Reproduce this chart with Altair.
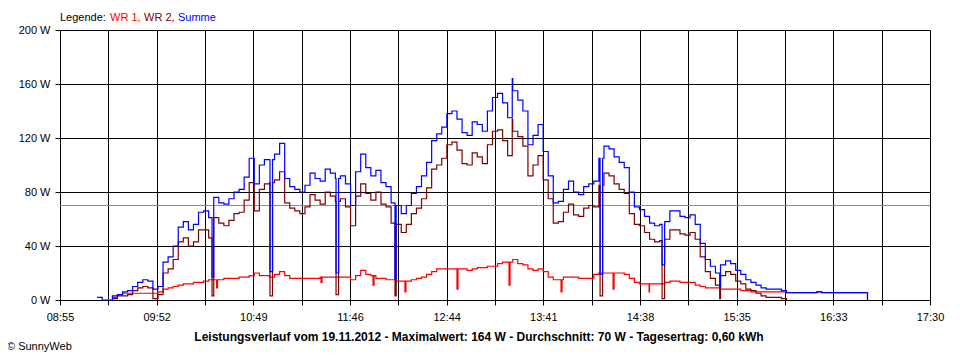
import altair as alt
import pandas as pd

# ---- sampling grid: minutes after 08:55, one reading every 3 minutes ----
t_start = 22
t_step = 3

summe = [
    2, 0, 0, 3, 4, 6, 7, 10, 13, 15,
    14, 8, 10, 28, 32, 40, 54, 58, 52, 56,
    65, 66, 61, 76, 72, 71, 75, 80, 82, 91,
    105, 86, 100, 104, 104, 108, 116, 90, 84, 82,
    80, 85, 94, 90, 88, 97, 94, 90, 92, 86,
    70, 95, 108, 98, 92, 96, 87, 84, 72, 70,
    64, 70, 79, 84, 92, 102, 118, 123, 128, 138,
    140, 134, 124, 122, 132, 130, 125, 140, 150, 153,
    146, 135, 155, 148, 140, 115, 122, 130, 110, 92,
    72, 73, 82, 88, 80, 78, 84, 86, 88, 105,
    114, 112, 106, 102, 98, 80, 69, 67, 62, 57,
    55, 56, 58, 66, 66, 62, 61, 63, 56, 42,
    30, 25, 20, 26, 29, 27, 22, 19, 15, 13,
    11, 9, 8, 8, 8, 7, 5.5, 5.5, 5.5, 5.5,
    5.5, 5.5, 6, 5.5, 5.5, 5.5, 5.5, 5.5, 5.5, 5.5,
    5.5, 5.5, 0,
]

wr1 = [
    None, None, None, 2, 4, 5, 5, 5, 5, 5,
    5, 5, 6, 8, 9, 10, 11, 12, 12, 13,
    13, 14, 15, 15, 15, 16, 16, 16, 17, 17,
    18, 20, 18, 18, 17, 19, 21, 18, 16, 16,
    16, 16, 16, 16, 17, 17, 17, 17, 17, 17,
    15, 18, 22, 19, 18, 16, 16, 15, 15, 14,
    14, 14, 15, 16, 17, 19, 21, 23, 23, 23,
    23, 23, 23, 22, 23, 24, 24, 25, 25, 27,
    28, 28, 30, 27, 26, 23, 22, 23, 21, 17,
    15, 15, 17, 17, 17, 16, 16, 16, 19, 20,
    20, 20, 20, 20, 19, 16, 13, 12, 12, 12,
    12, 12, 13, 14, 14, 13, 13, 13, 11, 10,
    9, 9, 9, 8, 8, 8, 8, 7, 7, 6,
    6, 6, 6, 6, 6, 6, 5.5, 5.5, 5.5, 5.5,
    5.5, 5.5, 6, 5.5, 5.5, 5.5, 5.5, 5.5, 5.5, 5.5,
    5.5, 5.5, 0,
]

wr2 = [
    None, None, None, 1, 3, 3, 4, 7, 9, 10,
    9, 1, 4, 20, 23, 30, 43, 46, 40, 43,
    52, 52, 46, 61, 57, 55, 59, 64, 65, 74,
    87, 66, 82, 86, 87, 89, 95, 72, 68, 66,
    64, 69, 78, 74, 71, 80, 77, 73, 75, 69,
    55, 77, 86, 79, 74, 80, 71, 69, 57, 56,
    50, 56, 64, 68, 75, 83, 97, 100, 105, 115,
    117, 111, 101, 100, 109, 106, 101, 115, 125, 126,
    118, 107, 125, 121, 114, 92, 100, 107, 89, 75,
    57, 58, 65, 71, 63, 62, 68, 70, 69, 85,
    94, 92, 86, 82, 79, 64, 56, 55, 50, 45,
    43, 44, 45, 52, 52, 49, 48, 50, 45, 32,
    21, 16, 11, 18, 21, 19, 14, 12, 8, 7,
    5, 3, 2, 2, 2, 1, 0, None, None, None,
    None, None, None, None, None, None, None, None, None, None,
    None, None, None,
]

# short dips / peaks between grid readings (minute, value)
summe_dip_t = [90.0, 124.3, 163.4, 198.3, 267.7, 319.7, 356.4, 390.5]
summe_dip_v = [17, 21, 20, 16, 164, 19, 26, 10]
wr2_dip_t = [90.0, 124.3, 163.4, 198.3, 267.7, 319.7, 356.4, 390.5]
wr2_dip_v = [3, 3, 4, 3, 134, 3, 1, 1]
wr1_dip_t = [92.7, 154.5, 185.3, 204.2, 235.0, 265.8, 296.6, 327.4, 348.7]
wr1_dip_v = [9, 13, 11, 6, 8, 11, 6, 8, 6]

mean_w = [70]
x_labels = ["08:55", "09:52", "10:49", "11:46", "12:44",
            "13:41", "14:38", "15:35", "16:33", "17:30"]
x_span = 515
y_ticks = [0, 40, 80, 120, 160, 200]

title_text = ("Leistungsverlauf vom 19.11.2012 - Maximalwert: 164 W - "
              "Durchschnitt: 70 W - Tagesertrag: 0,60 kWh")
FONT = "Liberation Sans"


def series(vals, dip_t, dip_v, width):
    times = [t_start + t_step * i for i in range(len(vals))]
    pts = list(zip(times, vals))
    for td, vd in zip(dip_t, dip_v):
        te = td + width
        idx = max(i for i, tt in enumerate(times) if tt <= te)
        pts.append((td, vd))
        pts.append((te, vals[idx]))
    pts.sort(key=lambda p: p[0])
    return pd.DataFrame({"t": [p[0] for p in pts], "w": [p[1] for p in pts]})


labels_js = "[" + ",".join("'" + s + "'" for s in x_labels) + "]"
x_label_expr = ("(round(datum.value*18/" + str(x_span) + ") % 2 == 0) ? "
                + labels_js + "[round(datum.value*9/" + str(x_span) + ")] : ''")

x_axis = alt.Axis(
    values=[x_span * k / 18 for k in range(19)], labelExpr=x_label_expr,
    title=None, grid=True, gridColor="#000000", gridOpacity=1, gridWidth=1,
    domainColor="#000000", domainWidth=1, tickColor="#000000", tickSize=5,
    tickWidth=1, labelFont=FONT, labelFontSize=11, labelColor="#000000",
    labelPadding=6, labelFlush=False, labelOverlap=False,
)
y_axis = alt.Axis(
    values=y_ticks, labelExpr="datum.value + ' W'", title=None, grid=True,
    gridColor="#000000", gridOpacity=1, gridWidth=1, domainColor="#000000",
    domainWidth=1, tickColor="#000000", tickSize=5, tickWidth=1,
    labelFont=FONT, labelFontSize=11, labelColor="#000000", labelPadding=5,
    labelFlush=False,
)
x_enc = alt.X("t:Q", scale=alt.Scale(domain=[0, x_span], nice=False, zero=False), axis=x_axis)
y_enc = alt.Y("w:Q", scale=alt.Scale(domain=[0, 200], nice=False), axis=y_axis)

mean_rule = alt.Chart(pd.DataFrame({"w": mean_w})).mark_rule(
    color="#8c8c8c", strokeWidth=1).encode(y=y_enc)


def line(df, color):
    return alt.Chart(df).mark_line(
        interpolate="step-after", color=color, strokeWidth=1.2
    ).encode(x=x_enc, y=y_enc)


l_wr1 = line(series(wr1, wr1_dip_t, wr1_dip_v, 0.6), "#ff0000")
l_wr2 = line(series(wr2, wr2_dip_t, wr2_dip_v, 1.5), "#800000")
l_sum = line(series(summe, summe_dip_t, summe_dip_v, 1.5), "#0000ff")


def label(txt, x, y, color="#000000", size=11, weight="normal", align="left"):
    return alt.Chart(pd.DataFrame({"a": [0]})).mark_text(
        text=txt, font=FONT, fontSize=size, fontWeight=weight, color=color,
        align=align, baseline="alphabetic"
    ).encode(x=alt.value(x), y=alt.value(y))


texts = [
    label("Legende:", 0, -9),
    label("WR 1,", 50, -9, "#ff0000"),
    label("WR 2,", 84, -9, "#800000"),
    label("Summe", 118, -9, "#0000ff"),
    label(title_text, 419, 311, size=12, weight="bold", align="center"),
    label("\u00a9 SunnyWeb", -53, 319.5),
]

chart = alt.layer(mean_rule, l_wr1, l_wr2, l_sum, *texts).properties(
    width=870, height=270,
    padding={"left": 52, "top": 22, "right": 22, "bottom": 52},
    autosize=alt.AutoSizeParams(type="none"),
    background="#ffffff",
).configure_view(strokeWidth=0)

chart.save("out.html", embed_options={"renderer": "svg", "actions": False})
